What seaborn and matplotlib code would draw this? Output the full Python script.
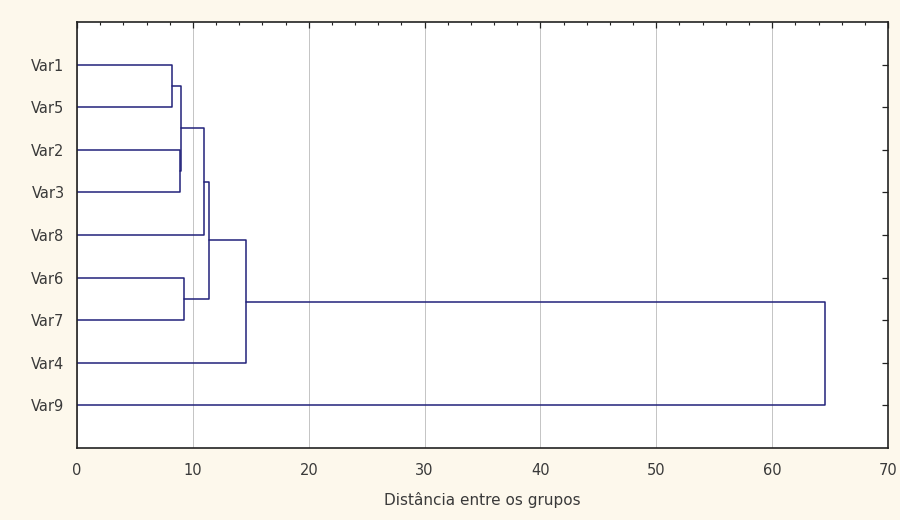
import pandas as pd
import seaborn as sns
import matplotlib.pyplot as plt
from matplotlib.ticker import MultipleLocator

# Leaves in dendrogram order (top to bottom) and the merges (a, b, distance)
leaves = ['Var1', 'Var5', 'Var2', 'Var3', 'Var8', 'Var6', 'Var7', 'Var4', 'Var9']
merge_a = [0, 2, 9, 11, 5, 12, 14, 15]
merge_b = [1, 3, 10, 4, 6, 13, 7, 8]
merge_dist = [8.2, 8.9, 8.95, 11.0, 9.25, 11.4, 14.6, 64.6]

# Build line segments for the dendrogram
pos = {i: (0.0, i + 1.0) for i in range(len(leaves))}  # cluster -> (height, y)
rows = []
seg = 0
for k, (a, b, d) in enumerate(zip(merge_a, merge_b, merge_dist)):
    ha, ya = pos[a]
    hb, yb = pos[b]
    for x, y in [(ha, ya), (d, ya), (d, yb), (hb, yb)]:
        rows.append({'seg': seg, 'dist': x, 'y': y})
    seg += 1
    pos[len(leaves) + k] = (d, (ya + yb) / 2)
df = pd.DataFrame(rows)

sns.set_style('white')
plt.rcParams['font.family'] = ['DejaVu Sans']

fig = plt.figure(figsize=(9, 5.2), dpi=100, facecolor='#fdf8ec')
ax = fig.add_axes([0.0856, 0.1385, 0.9011, 0.8192])
ax.set_facecolor('white')

sns.lineplot(data=df, x='dist', y='y', units='seg', estimator=None, sort=False,
             color='#22227a', linewidth=1.1, ax=ax)

ax.set_xlim(0, 70)
ax.set_ylim(len(leaves) + 1, 0)
ax.xaxis.set_major_locator(MultipleLocator(10))
ax.xaxis.set_minor_locator(MultipleLocator(2))
ax.set_yticks(range(1, len(leaves) + 1))
ax.set_yticklabels(leaves)
ax.grid(axis='x', which='major', color='#c4c4c4', linewidth=0.7)
ax.set_axisbelow(True)

ax.tick_params(which='both', direction='in', top=True, right=True,
               labelsize=10.5, colors='#222222', labelcolor='#3a3a3a')
ax.tick_params(which='major', length=4, width=0.9)
ax.tick_params(which='minor', length=2.5, width=0.8)
ax.tick_params(axis='x', pad=11)
ax.tick_params(axis='y', pad=9)
for s in ax.spines.values():
    s.set_color('#222222')
    s.set_linewidth(1.2)

ax.set_xlabel('Distância entre os grupos', fontsize=11, color='#3a3a3a', labelpad=10)
ax.set_ylabel('')

fig.savefig('out.png', dpi=100, facecolor=fig.get_facecolor())
